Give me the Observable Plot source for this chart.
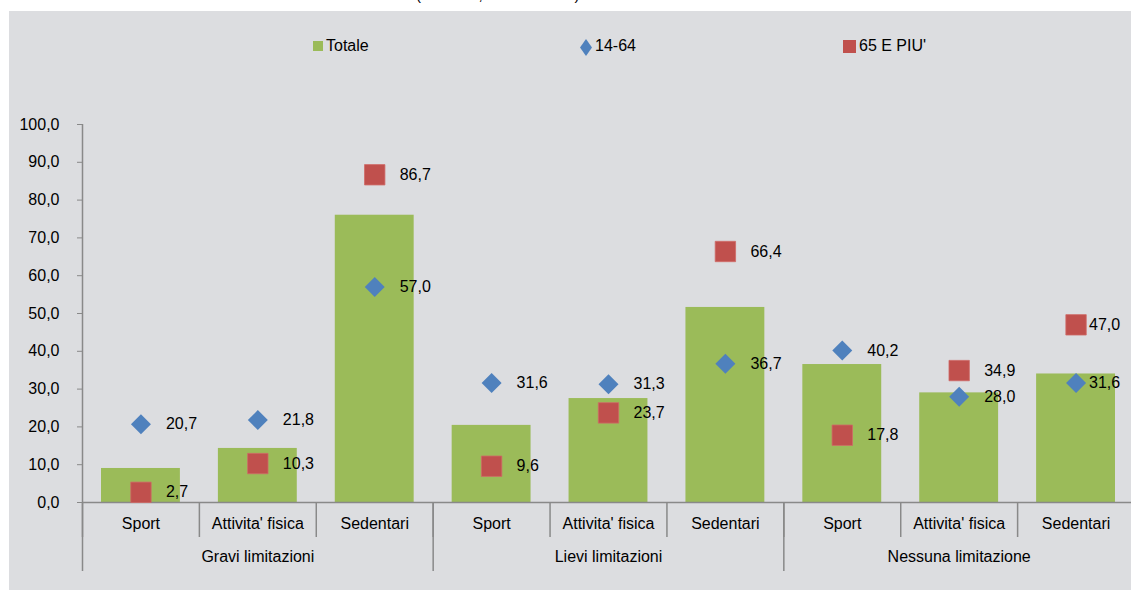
<!DOCTYPE html>
<html>
<head>
<meta charset="utf-8">
<script src="https://cdn.jsdelivr.net/npm/d3@7"></script>
<script src="https://cdn.jsdelivr.net/npm/@observablehq/plot@0.6"></script>
<style>
html, body { margin:0; padding:0; width:1131px; height:590px; overflow:hidden; background:#fff;
  font-family:"Liberation Sans", Arial, sans-serif; color:#000; }
#bg { position:absolute; left:9px; top:11px; width:1122px; height:579px; background:#dcdde0; }
#title { position:absolute; left:416px; top:-13px; font-size:15px; line-height:15px; white-space:nowrap; }
#chart { position:absolute; left:0; top:0; width:1140px; }
#chart svg { max-width:none !important; }
.lt { position:absolute; font-size:16px; line-height:18px; white-space:nowrap; top:37px; }
.li { position:absolute; }
</style>
</head>
<body>
<div id="bg"></div>
<div id="title">(dati in %, anni 2012-13)</div>
<div id="chart"></div>
<svg class="li" style="left:313px;top:41px" width="10" height="10"><rect width="10" height="10" fill="#9bbb59"/></svg>
<div class="lt" style="left:326px">Totale</div>
<svg class="li" style="left:580px;top:39px" width="12" height="17"><polygon points="6,0 12,8.5 6,17 0,8.5" fill="#4f81bd"/></svg>
<div class="lt" style="left:595px">14-64</div>
<svg class="li" style="left:843px;top:40px" width="13" height="13"><rect width="13" height="13" fill="#c0504d"/></svg>
<div class="lt" style="left:859px">65 E PIU'</div>
<script>
const groups = ["Gravi limitazioni", "Lievi limitazioni", "Nessuna limitazione"];
const activities = ["Sport", "Attivita' fisica", "Sedentari"];
const totale  = [9.0, 14.3, 76.0, 20.4, 27.5, 51.6, 36.5, 29.0, 34.0];
const eta1464 = [20.7, 21.8, 57.0, 31.6, 31.3, 36.7, 40.2, 28.0, 31.6];
const eta65   = [2.7, 10.3, 86.7, 9.6, 23.7, 66.4, 17.8, 34.9, 47.0];
const yTicks  = [0, 10, 20, 30, 40, 50, 60, 70, 80, 90, 100];

const rows = groups.flatMap((g, gi) => activities.map((a, ai) => {
  const i = gi * activities.length + ai;
  return {g, a, i, totale: totale[i], young: eta1464[i], old: eta65[i]};
}));
const n = rows.length;
const fmt = v => v.toFixed(1).replace(".", ",");
const axisGray = "#898989";
const W = 1140, H = 590;
const FS = 16;
const isLast = d => d.i === n - 1;
const notLast = d => d.i !== n - 1;

const labelMarks = (key, filter, dx) => Plot.text(rows, {
  filter, x: d => d.i + 0.5, y: key, text: d => fmt(d[key]), dx, textAnchor: "start", fontSize: FS, fill: "#000"
});

const chart = Plot.plot({
  width: W, height: H,
  marginLeft: 82, marginRight: W - 1134, marginTop: 124, marginBottom: H - 502,
  style: {background: "transparent", fontFamily: "Liberation Sans, Arial, sans-serif", fontSize: FS + "px", color: "#000", overflow: "visible", maxWidth: "none"},
  x: {type: "linear", domain: [0, n], axis: null},
  y: {domain: [0, 100], axis: null, label: null},
  marks: [
    Plot.rectY(rows, {x1: d => d.i, x2: d => d.i + 1, y1: 0, y2: "totale", fill: "#9bbb59", insetLeft: 19, insetRight: 19}),
    Plot.ruleX([0], {x: d => d, y1: 0, y2: 100, stroke: axisGray, strokeWidth: 1.5}),
    Plot.axisY({ticks: yTicks, tickSize: 5, tickPadding: 18, tickFormat: fmt, stroke: axisGray, fill: "#000", fontSize: FS, label: null}),
    Plot.ruleY([0], {stroke: axisGray, strokeWidth: 1.5}),
    Plot.ruleX(d3.range(n + 1), {x: d => d, y1: () => 0, y2: () => 0, insetBottom: -35, stroke: axisGray, strokeWidth: 1.5}),
    Plot.ruleX(d3.range(0, n + 1, activities.length), {x: d => d, y1: () => 0, y2: () => 0, insetBottom: -69, stroke: axisGray, strokeWidth: 1.5}),
    Plot.text(rows, {x: d => d.i + 0.5, y: () => 0, text: "a", dy: 21, fontSize: FS, fill: "#000"}),
    Plot.text(groups, {x: (d, gi) => gi * activities.length + activities.length / 2, y: () => 0, text: d => d, dy: 54, fontSize: FS, fill: "#000"}),
    Plot.dot(rows, {x: d => d.i + 0.5, y: "young", symbol: "diamond2", r: 9, fill: "#4f81bd", stroke: "none"}),
    Plot.dot(rows, {x: d => d.i + 0.5, y: "old", symbol: "square", r: 11.5, fill: "#c0504d", stroke: "#cf6a67", strokeWidth: 0.8}),
    labelMarks("young", notLast, 25),
    labelMarks("old", notLast, 25),
    labelMarks("young", isLast, 13),
    labelMarks("old", isLast, 13)
  ]
});
document.getElementById("chart").appendChild(chart);
</script>
</body>
</html>
